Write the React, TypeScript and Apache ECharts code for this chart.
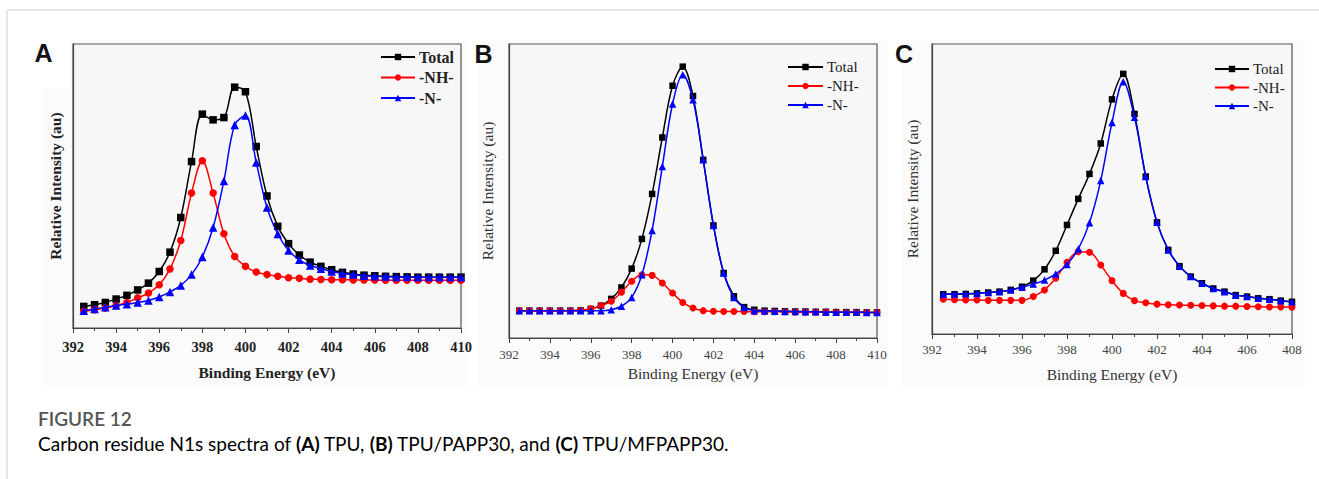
import React, { useEffect, useRef } from "react";
import * as echarts from "echarts";

// Binding energies (eV)
const energyAB = [392.5, 393, 393.5, 394, 394.5, 395, 395.5, 396, 396.5, 397, 397.5, 398, 398.5, 399, 399.5, 400, 400.5, 401, 401.5, 402, 402.5, 403, 403.5, 404, 404.5, 405, 405.5, 406, 406.5, 407, 407.5, 408, 408.5, 409, 409.5, 410];
const energyC = [392.5, 393, 393.5, 394, 394.5, 395, 395.5, 396, 396.5, 397, 397.5, 398, 398.5, 399, 399.5, 400, 400.5, 401, 401.5, 402, 402.5, 403, 403.5, 404, 404.5, 405, 405.5, 406, 406.5, 407, 407.5, 408];

// Panel A: TPU
const totalA = [7.6, 8.2, 9.0, 10.2, 11.5, 13.4, 15.8, 19.9, 26.7, 38.9, 58.6, 75.3, 73.3, 74.1, 84.8, 83.2, 63.9, 46.5, 35.8, 29.7, 25.7, 23.2, 21.7, 20.5, 19.6, 19.0, 18.6, 18.4, 18.2, 18.1, 18.0, 17.9, 17.9, 17.9, 17.9, 17.9];
const nhA = [5.9, 6.4, 7.0, 7.9, 9.0, 10.6, 12.3, 15.2, 20.8, 30.8, 47.5, 58.9, 47.5, 33.2, 25.2, 21.7, 19.7, 18.8, 18.2, 17.7, 17.5, 17.2, 17.1, 17.0, 17.0, 16.9, 16.9, 16.9, 16.8, 16.8, 16.8, 16.8, 16.8, 16.8, 16.8, 16.8];
const nA = [6.1, 6.7, 7.3, 7.9, 8.4, 9.0, 9.7, 10.9, 12.7, 15.0, 18.8, 25.0, 35.4, 51.8, 71.5, 74.8, 58.3, 42.4, 33.1, 27.3, 24.0, 22.0, 20.9, 19.9, 19.2, 18.8, 18.4, 18.2, 18.1, 18.0, 18.0, 17.9, 17.9, 17.9, 17.9, 17.9];

// Panel B: TPU/PAPP30
const totalB = [9.3, 9.3, 9.3, 9.3, 9.3, 9.3, 9.4, 9.9, 11.0, 13.3, 17.2, 23.6, 33.7, 49.0, 68.2, 85.8, 92.3, 82.3, 60.6, 38.3, 22.1, 14.2, 10.5, 9.6, 9.3, 9.2, 9.1, 9.0, 9.0, 8.9, 8.9, 8.8, 8.8, 8.8, 8.7, 8.7];
const nhB = [9.3, 9.3, 9.3, 9.3, 9.3, 9.3, 9.4, 9.9, 11.0, 12.5, 15.6, 19.3, 21.5, 21.3, 18.7, 15.3, 12.1, 10.2, 9.3, 9.1, 9.0, 9.0, 9.0, 8.9, 8.9, 8.9, 8.9, 8.8, 8.8, 8.8, 8.8, 8.8, 8.7, 8.7, 8.7, 8.7];
const nB = [9.3, 9.3, 9.3, 9.3, 9.3, 9.3, 9.3, 9.3, 9.3, 9.6, 10.8, 13.8, 21.5, 36.6, 58.3, 79.6, 89.5, 81.0, 60.6, 38.3, 22.1, 13.8, 10.4, 9.3, 9.2, 9.1, 9.0, 9.0, 8.9, 8.9, 8.8, 8.8, 8.8, 8.8, 8.7, 8.7];

// Panel C: TPU/MFPAPP30
const totalC = [13.7, 13.7, 13.8, 14.0, 14.3, 14.6, 15.2, 16.3, 18.4, 22.3, 28.7, 37.6, 46.6, 55.2, 65.7, 80.9, 89.7, 75.9, 54.3, 38.5, 29.0, 23.4, 19.8, 17.5, 15.7, 14.6, 13.4, 12.9, 12.3, 12.0, 11.5, 11.1];
const nhC = [12.0, 11.8, 11.7, 11.7, 11.6, 11.6, 11.6, 11.6, 12.9, 15.2, 19.2, 24.7, 28.4, 28.2, 23.8, 18.4, 14.0, 11.5, 10.8, 10.3, 10.1, 10.0, 9.9, 9.8, 9.7, 9.6, 9.6, 9.5, 9.4, 9.3, 9.3, 9.2];
const nC = [13.7, 13.8, 13.9, 14.0, 14.3, 14.6, 15.2, 16.1, 17.2, 18.6, 20.7, 24.0, 29.3, 38.4, 52.9, 72.9, 87.0, 74.7, 54.3, 38.5, 29.0, 23.4, 19.8, 17.5, 15.7, 14.6, 13.4, 12.9, 12.3, 12.0, 11.5, 11.1];

const seriesNames = ["Total", "-NH-", "-N-"];
const xMaxes = [410, 410, 408];
const panelLabels = ["A", "B", "C"];
const xAxisName = "Binding Energy (eV)";
const yAxisName = "Relative Intensity (au)";

const SERIF = "'Liberation Serif', 'DejaVu Serif', serif";
const SANS = "'Liberation Sans', Arial, sans-serif";
const CAP = "Lato, 'Open Sans', sans-serif";

export default function App() {
  const ref = useRef<HTMLDivElement>(null);
  useEffect(() => {
    if (!ref.current) return;
    const chart = echarts.init(ref.current, undefined, { renderer: "svg" });

    const grids = [
      { left: 73, top: 44, width: 388, height: 284 },
      { left: 509, top: 44, width: 368, height: 294 },
      { left: 932, top: 44, width: 360, height: 290 },
    ];
    const bold = [true, false, false];
    const tickFont = [14.5, 13, 13];
    const labelMargin = [11, 10, 9];
    const nameFont = [15.5, 15.5, 15.5];
    const xNameGap = [36, 25, 32];
    const yNameGap = [10, 14, 12];

    const colors = ["#000000", "#ff0000", "#0000ff"];
    const symbols = ["rect", "circle", "triangle"];
    const symSizes = [
      [7.5, 7.5, 8.5],
      [6.5, 7, 7.5],
      [6.5, 7, 7.5],
    ];

    const panels = [
      { x: energyAB, ys: [totalA, nhA, nA] },
      { x: energyAB, ys: [totalB, nhB, nB] },
      { x: energyC, ys: [totalC, nhC, nC] },
    ];

    const series: any[] = [];
    panels.forEach((p, pi) => {
      p.ys.forEach((ys, si) => {
        series.push({
          type: "line",
          name: seriesNames[si],
          xAxisIndex: pi,
          yAxisIndex: pi,
          data: p.x.map((x, i) => [x, ys[i]]),
          smooth: 0.35,
          symbol: symbols[si],
          symbolSize: symSizes[pi][si],
          showAllSymbol: true,
          lineStyle: { color: colors[si], width: 1.5 },
          itemStyle: { color: colors[si] },
          z: 2 + si,
        });
      });
    });

    const xAxis = grids.map((_, i) => ({
      type: "value",
      gridIndex: i,
      min: 392,
      max: xMaxes[i],
      interval: 2,
      name: xAxisName,
      nameLocation: "middle",
      nameGap: xNameGap[i],
      nameTextStyle: {
        fontFamily: SERIF,
        fontSize: nameFont[i],
        fontWeight: bold[i] ? "bold" : "normal",
        color: bold[i] ? "#222" : "#333",
      },
      axisLine: { show: true, lineStyle: { color: "#444", width: 1.2 } },
      axisTick: { show: true, inside: false, length: 5, lineStyle: { color: "#444" } },
      minorTick: { show: true, splitNumber: 2, length: 3, lineStyle: { color: "#444" } },
      splitLine: { show: false },
      axisLabel: {
        margin: labelMargin[i],
        fontFamily: SERIF,
        fontSize: tickFont[i],
        fontWeight: bold[i] ? "bold" : "normal",
        color: bold[i] ? "#222" : "#444",
      },
    }));

    const yAxis = grids.map((_, i) => ({
      type: "value",
      gridIndex: i,
      min: 0,
      max: 100,
      name: yAxisName,
      nameLocation: "middle",
      nameGap: yNameGap[i],
      nameTextStyle: {
        fontFamily: SERIF,
        fontSize: nameFont[i],
        fontWeight: bold[i] ? "bold" : "normal",
        color: bold[i] ? "#222" : "#333",
      },
      axisLine: { show: true, lineStyle: { color: "#444", width: 1.2 } },
      axisTick: { show: false },
      axisLabel: { show: false },
      splitLine: { show: false },
    }));

    const legendPos = [
      { left: 380, top: 49, itemWidth: 34, itemGap: 4.5, fontSize: 16 },
      { left: 787, top: 59.5, itemWidth: 35, itemGap: 4, fontSize: 15 },
      { left: 1214, top: 61.5, itemWidth: 34, itemGap: 3.5, fontSize: 15 },
    ];
    const legend = legendPos.map((l, i) => ({
      orient: "vertical",
      left: l.left,
      top: l.top,
      itemWidth: l.itemWidth,
      itemHeight: 8,
      itemGap: l.itemGap,
      padding: 0,
      selectedMode: false,
      data: seriesNames,
      textStyle: {
        fontFamily: SERIF,
        fontSize: l.fontSize,
        fontWeight: bold[i] ? "bold" : "normal",
        color: "#222",
        padding: [0, 0, 0, -1],
      },
    }));

    const panelBg = [
      { x: 43, y: 40, w: 424, h: 346 },
      { x: 478, y: 40, w: 410, h: 346 },
      { x: 902, y: 40, w: 403, h: 346 },
    ];
    const labelPos = [
      { x: 43.5, y: 53 },
      { x: 483.5, y: 54 },
      { x: 904, y: 54 },
    ];

    const graphic: any[] = [
      { type: "line", shape: { x1: 7, y1: 10, x2: 1319, y2: 10 }, style: { stroke: "#dcdcdc", lineWidth: 1.5 }, z: -5 },
      { type: "line", shape: { x1: 7, y1: 10, x2: 7, y2: 479 }, style: { stroke: "#dcdcdc", lineWidth: 1.5 }, z: -5 },
      ...panelBg.map((b) => ({
        type: "rect",
        shape: { x: b.x, y: b.y, width: b.w, height: b.h },
        style: { fill: "#fbfbfb" },
        z: -10,
        silent: true,
      })),
      { type: "rect", shape: { x: 20, y: 30, width: 50, height: 58 }, style: { fill: "#ffffff" }, z: -9 },
      ...labelPos.map((p, i) => ({
        type: "text",
        x: p.x,
        y: p.y,
        style: {
          text: panelLabels[i],
          font: `bold 25px ${SANS}`,
          fill: "#111",
          align: "center",
          verticalAlign: "middle",
        },
        z: 10,
      })),
      {
        type: "text",
        x: 38,
        y: 418,
        style: {
          text: "FIGURE 12",
          font: `600 19px ${CAP}`,
          fill: "#555",
          align: "left",
          verticalAlign: "middle",
        },
      },
      {
        type: "text",
        x: 38,
        y: 443,
        style: {
          text: "{n|Carbon residue N1s spectra of }{b|(A)}{n| TPU, }{b|(B)}{n| TPU/PAPP30, and }{b|(C)}{n| TPU/MFPAPP30.}",
          align: "left",
          verticalAlign: "middle",
          rich: {
            n: { fontFamily: CAP, fontSize: 19, color: "#666" },
            b: { fontFamily: CAP, fontSize: 19, fontWeight: "bold", color: "#555" },
          },
        },
      },
    ];

    chart.setOption({
      animation: false,
      backgroundColor: "#ffffff",
      grid: grids.map((g) => ({
        ...g,
        show: true,
        backgroundColor: "#f7f7f7",
        borderColor: "#555",
        borderWidth: 1.2,
      })),
      xAxis,
      yAxis,
      legend,
      series,
      graphic,
    });

    return () => chart.dispose();
  }, []);

  return (
    <div
      ref={ref}
      style={{ position: "fixed", left: 0, top: 0, width: 1319, height: 479 }}
    />
  );
}
